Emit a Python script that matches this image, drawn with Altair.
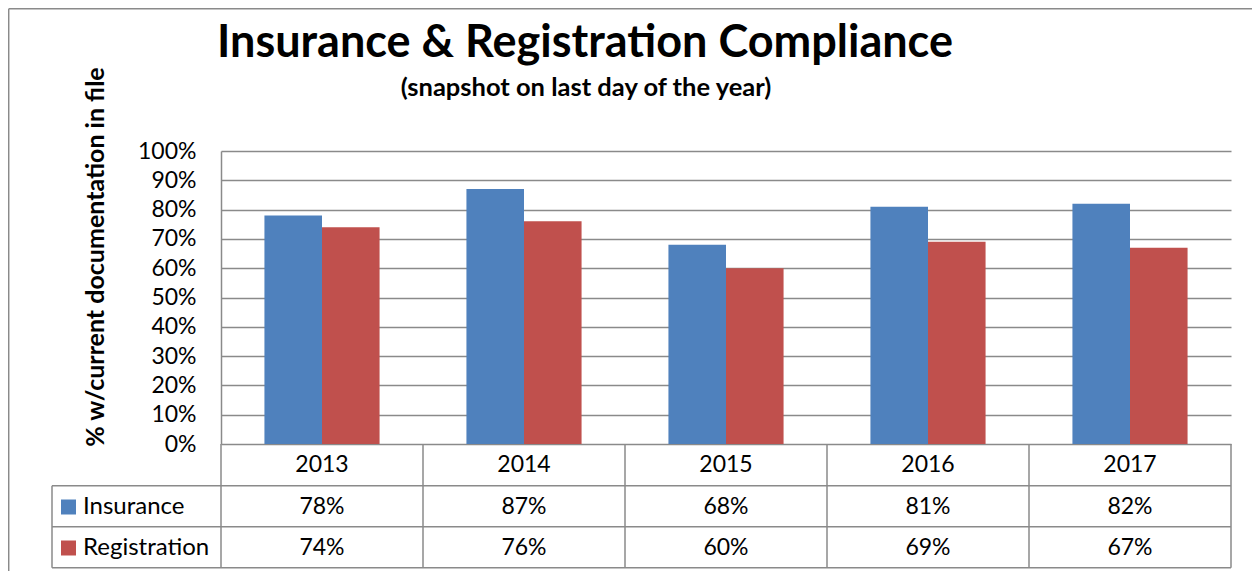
import altair as alt
import pandas as pd

# ---- data ----
years = ["2013", "2014", "2015", "2016", "2017"]
series = ["Insurance", "Registration"]
insurance = [78, 87, 68, 81, 82]
registration = [74, 76, 60, 69, 67]
colors = ["#4F81BD", "#C0504D"]
y_ticks = [0, 10, 20, 30, 40, 50, 60, 70, 80, 90, 100]
title_text = "Insurance & Registration Compliance"
subtitle_text = "(snapshot on last day of the year)"
y_title = "% w/current documentation in file"

W, H = 1010, 293
GRAY = "#8A8A8A"
FONT = "Lato"

rows = []
for i, y in enumerate(years):
    rows.append({"year": y, "series": series[0], "value": insurance[i]})
    rows.append({"year": y, "series": series[1], "value": registration[i]})
df = pd.DataFrame(rows)
df_years = pd.DataFrame({"year": years})
one = pd.DataFrame({"a": [0]})

xscale = alt.Scale(domain=years, paddingInner=0.43, paddingOuter=0.215)
X = alt.X("year:N", scale=xscale, axis=None, sort=years)
colscale = alt.Scale(domain=series, range=colors)

bars = alt.Chart(df).mark_bar(stroke=None).encode(
    x=X,
    xOffset=alt.XOffset("series:N", scale=alt.Scale(domain=series, paddingInner=0, paddingOuter=0)),
    y=alt.Y("value:Q", scale=alt.Scale(domain=[0, 100], nice=False),
            axis=alt.Axis(values=y_ticks, labelExpr="datum.value + '%'", grid=True,
                          gridColor=GRAY, gridWidth=1.5, domain=True, domainColor=GRAY,
                          domainWidth=1.5, ticks=False, labelFontSize=23, labelFont=FONT,
                          labelColor="black", labelPadding=25, title=None)),
    color=alt.Color("series:N", scale=colscale, legend=None),
)

# data table: header row (years)
hdr = alt.Chart(df_years).mark_text(font=FONT, fontSize=23, color="black", baseline="middle").encode(
    x=alt.X("year:N", scale=xscale, axis=None, sort=years, bandPosition=0.5),
    y=alt.value(314), text="year:N")

ins_df = df[df.series == series[0]].assign(label=lambda d: d.value.astype(str) + "%")
reg_df = df[df.series == series[1]].assign(label=lambda d: d.value.astype(str) + "%")
ins_txt = alt.Chart(ins_df).mark_text(font=FONT, fontSize=23, color="black", baseline="middle").encode(
    x=alt.X("year:N", scale=xscale, axis=None, sort=years, bandPosition=0.5),
    y=alt.value(356), text="label:N")
reg_txt = alt.Chart(reg_df).mark_text(font=FONT, fontSize=23, color="black", baseline="middle").encode(
    x=alt.X("year:N", scale=xscale, axis=None, sort=years, bandPosition=0.5),
    y=alt.value(397), text="label:N")

# table vertical lines at category boundaries
vlines = alt.Chart(df_years).mark_rule(color=GRAY, strokeWidth=1.5, xOffset=-101).encode(
    x=alt.X("year:N", scale=xscale, axis=None, sort=years, bandPosition=0.5),
    y=alt.value(293), y2=alt.value(416.7))
rline = alt.Chart(one).mark_rule(color=GRAY, strokeWidth=1.5).encode(
    x=alt.value(W), y=alt.value(293), y2=alt.value(416.7))
lline = alt.Chart(one).mark_rule(color=GRAY, strokeWidth=1.5).encode(
    x=alt.value(-169), y=alt.value(334.7), y2=alt.value(416.7))
h1 = alt.Chart(one).mark_rule(color=GRAY, strokeWidth=1.5).encode(
    x=alt.value(-169), x2=alt.value(W), y=alt.value(334.7))
h2 = alt.Chart(one).mark_rule(color=GRAY, strokeWidth=1.5).encode(
    x=alt.value(-169), x2=alt.value(W), y=alt.value(375.7))
h3 = alt.Chart(one).mark_rule(color=GRAY, strokeWidth=1.5).encode(
    x=alt.value(-169), x2=alt.value(W), y=alt.value(416.7))

# legend keys in table
leg_df = pd.DataFrame({"series": series, "py": [356, 397]})
leg_sq = alt.Chart(leg_df).mark_square(size=225, opacity=1).encode(
    x=alt.value(-152.5), y=alt.Y("py:Q", scale=None),
    color=alt.Color("series:N", scale=colscale, legend=None))
leg_tx = alt.Chart(leg_df).mark_text(font=FONT, fontSize=24, color="black", align="left",
                                     baseline="middle").encode(
    x=alt.value(-138), y=alt.Y("py:Q", scale=None), text="series:N")

# outer border
bl = alt.Chart(one).mark_rule(color=GRAY, strokeWidth=1.5).encode(
    x=alt.value(-212.3), y=alt.value(-142.3), y2=alt.value(425))
bt = alt.Chart(one).mark_rule(color=GRAY, strokeWidth=1.5).encode(
    x=alt.value(-212.3), x2=alt.value(1040), y=alt.value(-142.3))

# titles
t1 = alt.Chart(one).mark_text(font=FONT, fontSize=45, fontWeight="bold", color="black",
                              baseline="middle").encode(
    x=alt.value(364), y=alt.value(-108), text=alt.value(title_text))
t2 = alt.Chart(one).mark_text(font=FONT, fontSize=25.5, fontWeight="bold", color="black",
                              baseline="middle").encode(
    x=alt.value(365), y=alt.value(-63), text=alt.value(subtitle_text))
t3 = alt.Chart(one).mark_text(font=FONT, fontSize=25, fontWeight="bold", color="black",
                              baseline="middle", angle=270).encode(
    x=alt.value(-125), y=alt.value(106), text=alt.value(y_title))

chart = alt.layer(
    bars, vlines, rline, lline, h1, h2, h3, hdr, ins_txt, reg_txt, leg_sq, leg_tx,
    bl, bt, t1, t2, t3
).properties(
    width=W, height=H,
    autosize=alt.AutoSizeParams(type="none"),
    padding={"left": 213, "top": 143, "right": 21, "bottom": 127},
    background="white",
).configure_view(strokeWidth=0)

chart.save("out.html", embed_options={"renderer": "svg", "actions": False})
